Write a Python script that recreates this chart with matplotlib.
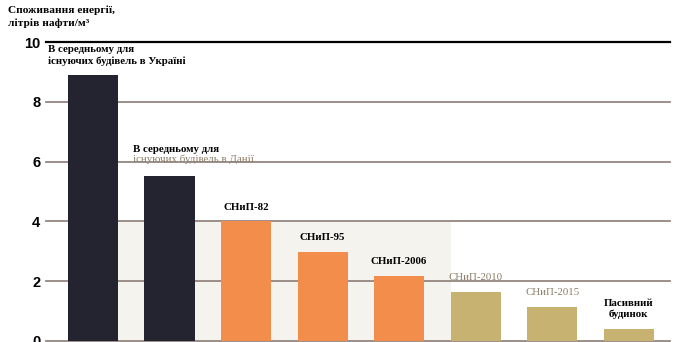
import matplotlib.pyplot as plt
from matplotlib.patches import Rectangle

# values, litres of oil per m2
labels = ['В середньому для\nіснуючих будівель в Україні',
          'В середньому для\nіснуючих будівель в Данії',
          'СНиП-82', 'СНиП-95', 'СНиП-2006', 'СНиП-2010', 'СНиП-2015',
          'Пасивний\nбудинок']
values = [8.88, 5.53, 4.0, 2.97, 2.17, 1.64, 1.14, 0.4]
colors = ['#23242f', '#23242f', '#f28d4b', '#f28d4b', '#f28d4b',
          '#c8b272', '#c8b272', '#c8b272']
label_colors = ['black', 'black', 'black', 'black', 'black',
                '#8a7c68', '#8a7c68', 'black']
yticks = [0, 2, 4, 6, 8, 10]

serif = ['Liberation Serif', 'DejaVu Serif']
sans = ['Liberation Sans', 'DejaVu Sans']

fig = plt.figure(figsize=(6.78, 3.42), dpi=100)
ax = fig.add_axes([46 / 678, 1 / 342, 624 / 678, 299 / 342])
ax.set_xlim(-0.614, 7.54)
ax.set_ylim(0, 10)

x = list(range(len(values)))
w = 0.654

# faint background block behind the middle bars
ax.add_patch(Rectangle((x[0] + w / 2, 0), x[5] - x[0] - w, values[2],
                       facecolor='#f5f3ee', edgecolor='none', zorder=0))

for t in yticks:
    ax.axhline(t, color='black' if t == 10 else '#94867f',
               lw=1.6 if t == 10 else 1.3, zorder=1, clip_on=False)

ax.bar(x, values, width=w, color=colors, zorder=2)

for s in ax.spines.values():
    s.set_visible(False)
ax.set_xticks([])
ax.set_yticks(yticks)
ax.set_yticklabels([str(t) for t in yticks], family=sans,
                   fontweight='bold', fontsize=10.5)
ax.tick_params(axis='y', length=0, pad=4)

# bar labels
ax.text(-0.588, 9.9, labels[0], ha='left', va='top', family=serif,
        fontweight='bold', fontsize=7.8, linespacing=1.3)
l1, l2 = labels[1].split('\n')
ax.text(0.52, 6.25, l1, ha='left', va='bottom', family=serif,
        fontweight='bold', fontsize=7.8)
ax.text(0.52, 5.92, l2, ha='left', va='bottom', family=serif,
        color='#8a7c68', fontsize=7.8)
for i in range(2, len(values)):
    bold = label_colors[i] == 'black'
    ax.annotate(labels[i], (x[i], values[i]), xytext=(0, 7),
                textcoords='offset points', ha='center', va='bottom',
                family=serif, fontweight='bold' if bold else 'normal',
                color=label_colors[i], fontsize=7.8, linespacing=1.3)

fig.text(8 / 678, 1 - 5 / 342, 'Споживання енергії,\nлітрів нафти/м³',
         ha='left', va='top', family=serif, fontweight='bold',
         fontsize=8.2, linespacing=1.45)

fig.savefig('out.png', dpi=100)
